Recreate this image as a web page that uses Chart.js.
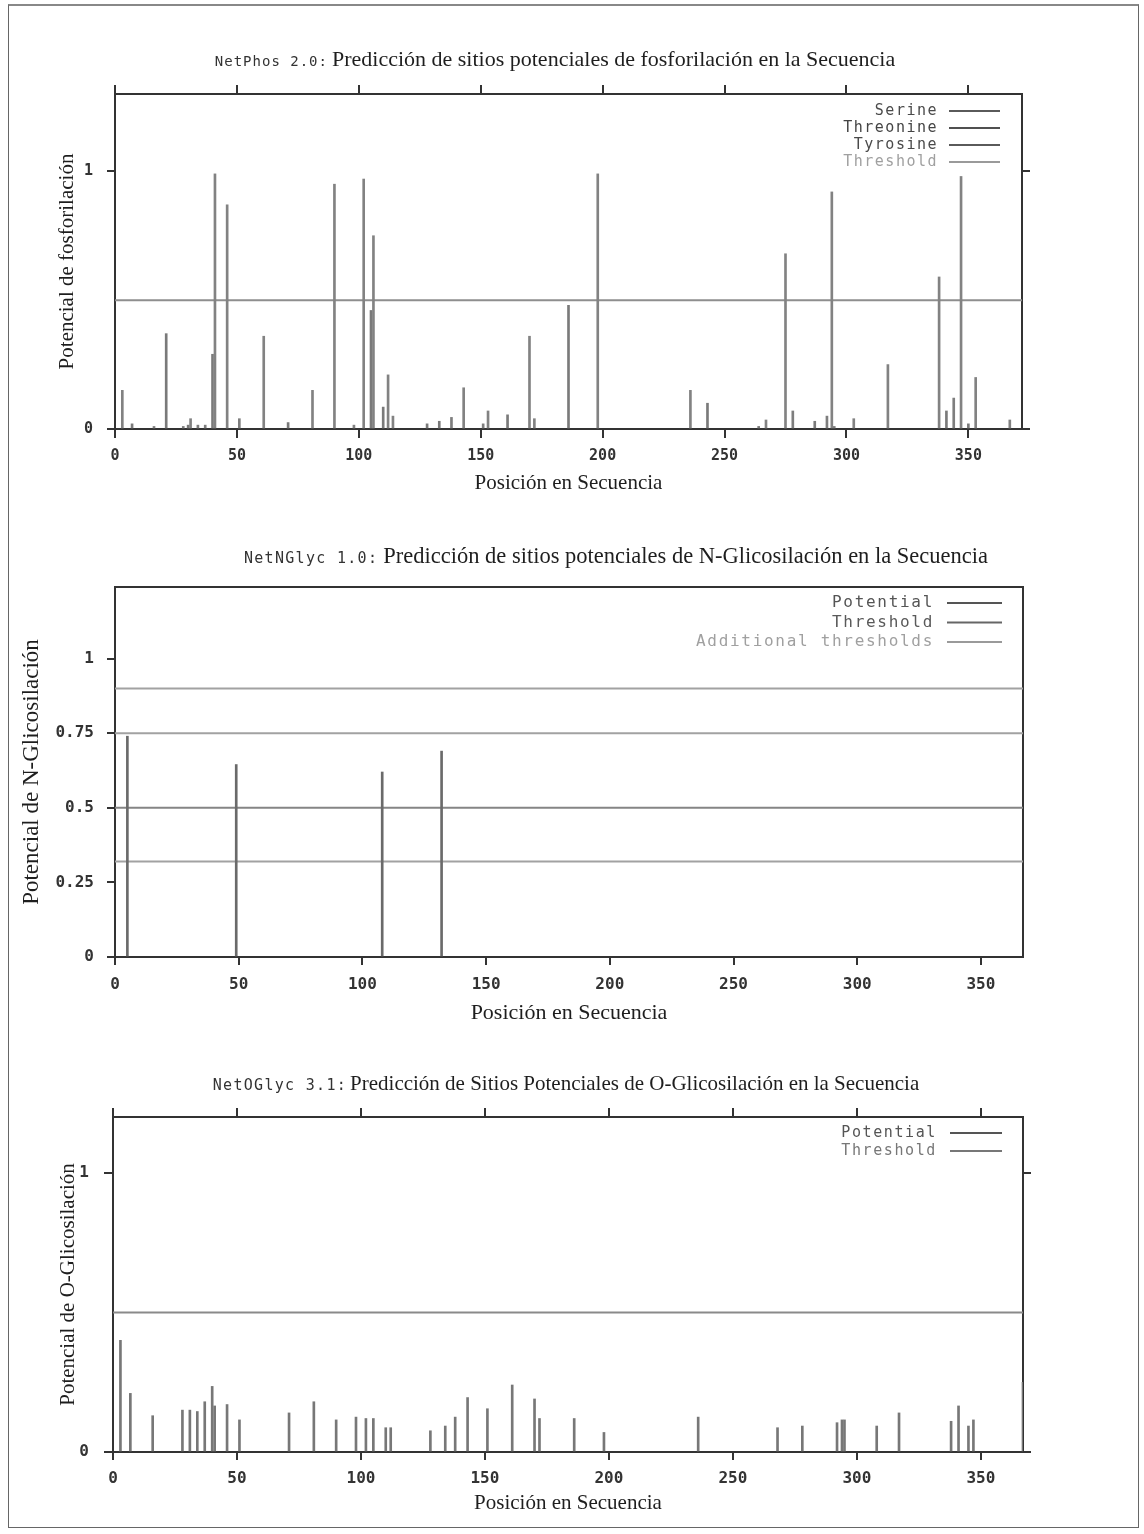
<!DOCTYPE html>
<html lang="es">
<head>
<meta charset="utf-8">
<title>NetPhos / NetNGlyc / NetOGlyc</title>
<script src="https://cdn.jsdelivr.net/npm/chart.js@4.4.1/dist/chart.umd.min.js"></script>
<style>
  html, body { margin: 0; padding: 0; background: #fff; }
  body { width: 1144px; height: 1534px; position: relative; overflow: hidden; }
  #frame { position: absolute; left: 8px; top: 4px; width: 1131px; height: 1524px; border: 1px solid #666; border-top: 2px solid #888; box-sizing: border-box; }
  canvas { position: absolute; left: 10px; }
</style>
</head>
<body>
<div id="frame"></div>
<canvas id="phosChart" width="1124" height="480" style="top:20px"></canvas>
<canvas id="nglycChart" width="1124" height="510" style="top:520px"></canvas>
<canvas id="oglycChart" width="1124" height="476" style="top:1050px"></canvas>
<script>
// ---------- values ----------
const seqTicks = [0, 50, 100, 150, 200, 250, 300, 350];

// NetPhos 2.0
const serinePos     = [3, 16, 31, 41, 46, 61, 81, 90, 98, 102, 106, 112, 114, 143, 153, 170, 172, 198, 236, 267, 275, 294, 303, 317, 338, 347, 353, 367];
const serineScore   = [0.15, 0.01, 0.04, 0.99, 0.87, 0.36, 0.15, 0.95, 0.015, 0.97, 0.75, 0.21, 0.05, 0.16, 0.07, 0.36, 0.04, 0.99, 0.15, 0.035, 0.68, 0.92, 0.04, 0.25, 0.59, 0.98, 0.2, 0.035];
const threoninePos  = [7, 21, 30, 40, 71, 105, 110, 128, 133, 161, 186, 243, 264, 287, 341, 350];
const threonineScore= [0.02, 0.37, 0.015, 0.29, 0.025, 0.46, 0.085, 0.02, 0.03, 0.055, 0.48, 0.1, 0.01, 0.03, 0.07, 0.02];
const tyrosinePos   = [28, 34, 37, 51, 138, 151, 278, 292, 295, 344];
const tyrosineScore = [0.01, 0.015, 0.015, 0.04, 0.045, 0.02, 0.07, 0.05, 0.01, 0.12];
const phosThreshold = 0.5;
const phosYTicks = [0, 1];

// NetNGlyc 1.0
const nglycPos   = [5, 49, 108, 132];
const nglycScore = [0.74, 0.645, 0.62, 0.69];
const nglycThreshold = 0.5;
const nglycExtraThresholds = [0.32, 0.75, 0.9];
const nglycYTicks = [0, 0.25, 0.5, 0.75, 1];

// NetOGlyc 3.1
const oglycPos   = [3, 7, 16, 28, 31, 34, 37, 40, 41, 46, 51, 71, 81, 90, 98, 102, 105, 110, 112, 128, 134, 138, 143, 151, 161, 170, 172, 186, 198, 236, 268, 278, 292, 294, 295, 308, 317, 338, 341, 345, 347, 367];
const oglycScore = [0.40, 0.21, 0.13, 0.15, 0.15, 0.145, 0.18, 0.235, 0.165, 0.17, 0.115, 0.14, 0.18, 0.115, 0.125, 0.12, 0.12, 0.087, 0.087, 0.076, 0.093, 0.125, 0.195, 0.155, 0.24, 0.19, 0.12, 0.12, 0.07, 0.125, 0.087, 0.093, 0.105, 0.115, 0.115, 0.093, 0.14, 0.11, 0.165, 0.093, 0.115, 0.25];
const oglycThreshold = 0.5;
const oglycYTicks = [0, 1];

// ---------- helpers ----------
const MONO = '"DejaVu Sans Mono", monospace';
const SERIF = '"Liberation Serif", serif';
const AXIS = '#333';

const toPoints = (pos, score) => pos.map((p, i) => ({x: p, y: score[i]}));
const flatLine = (y, xMax) => [{x: 0, y: y}, {x: xMax, y: y}];

function impulses(label, pos, score, color, legendLine, legendText) {
    return { type: 'bar', label, data: toPoints(pos, score), backgroundColor: color, borderWidth: 0,
             barThickness: 2, grouped: false, legendLine, legendText };
}
function hline(label, y, xMax, color, legendLine, legendText) {
    return { type: 'line', label, data: flatLine(y, xMax), borderColor: color, borderWidth: 2,
             pointRadius: 0, fill: false, legendLine, legendText };
}

// two-font title (program name in mono, description in serif)
const splitTitle = {
    id: 'splitTitle',
    afterDraw(chart, args, o) {
        const ctx = chart.ctx;
        ctx.save();
        ctx.textBaseline = 'alphabetic';
        ctx.textAlign = 'left';
        ctx.font = `${o.codeSize}px ${MONO}`;
        ctx.letterSpacing = o.codeSpacing + 'px';
        const w1 = ctx.measureText(o.code).width + o.gap;
        ctx.font = `${o.textSize}px ${SERIF}`;
        ctx.letterSpacing = '0px';
        const w2 = ctx.measureText(o.text).width;
        let x = o.cx - (w1 + w2) / 2;
        ctx.fillStyle = '#333';
        ctx.font = `${o.codeSize}px ${MONO}`;
        ctx.letterSpacing = o.codeSpacing + 'px';
        ctx.fillText(o.code, x, o.baseline);
        ctx.font = `${o.textSize}px ${SERIF}`;
        ctx.letterSpacing = '0px';
        ctx.fillStyle = '#1e1e1e';
        ctx.fillText(o.text, x + w1, o.baseline);
        ctx.restore();
    }
};

// gnuplot-style key: label right aligned, sample line to its right
const lineLegend = {
    id: 'lineLegend',
    afterDraw(chart, args, o) {
        const ctx = chart.ctx;
        ctx.save();
        ctx.font = `${o.size}px ${MONO}`;
        ctx.letterSpacing = o.spacing + 'px';
        ctx.textAlign = 'right';
        ctx.textBaseline = 'middle';
        let row = 0;
        chart.data.datasets.forEach(ds => {
            if (!ds.label) return;
            const y = o.top + row * o.step;
            ctx.fillStyle = ds.legendText;
            ctx.fillText(ds.label, o.textRight, y);
            ctx.strokeStyle = ds.legendLine;
            ctx.lineWidth = 2;
            ctx.beginPath();
            ctx.moveTo(o.x1, y);
            ctx.lineTo(o.x2, y);
            ctx.stroke();
            row++;
        });
        ctx.restore();
    }
};

function buildChart(id, c) {
    const canvas = document.getElementById(id);
    const offX = 10, offY = parseInt(canvas.style.top);
    const W = canvas.width, H = canvas.height;
    const a = c.area;
    const rightW = 20, topH = 14;
    const tickFont = {family: MONO, size: c.tickSize, weight: 'bold'};
    const lineOpts = (len, show) => ({ display: show, drawOnChartArea: false, drawTicks: true, tickLength: len,
        color: AXIS, tickColor: AXIS, lineWidth: 2, offset: false });
    const border = { display: true, color: AXIS, width: 2 };

    return new Chart(canvas, {
        type: 'bar',
        data: { datasets: c.datasets },
        options: {
            responsive: false,
            animation: false,
            events: [],
            layout: { padding: { left: 0, top: a.top - offY - topH, right: offX + W - a.right - rightW, bottom: 0 } },
            plugins: {
                legend: { display: false },
                tooltip: { enabled: false },
                title: { display: false },
                splitTitle: Object.assign({}, c.title, { cx: c.title.cx - offX, baseline: c.title.baseline - offY }),
                lineLegend: Object.assign({}, c.legend, { textRight: c.legend.textRight - offX,
                    x1: c.legend.x1 - offX, x2: c.legend.x2 - offX, top: c.legend.top - offY })
            },
            scales: {
                x: {
                    type: 'linear', position: 'bottom', min: 0, max: c.xMax, offset: false,
                    afterBuildTicks: s => { s.ticks = seqTicks.map(v => ({value: v})); },
                    afterFit: s => { s.height = offY + H - a.bottom; },
                    grid: lineOpts(c.xTickLen, true),
                    border,
                    ticks: { font: tickFont, color: '#333', padding: c.xTickPad, maxRotation: 0, autoSkip: false,
                             callback: v => String(v) },
                    title: { display: true, text: c.xTitle, font: {family: SERIF, size: c.xTitleSize}, color: '#1e1e1e',
                             padding: { top: 0, bottom: c.xTitlePad } }
                },
                y: {
                    type: 'linear', position: 'left', min: 0, max: c.yMax,
                    afterBuildTicks: s => { s.ticks = c.yTicks.map(v => ({value: v})); },
                    afterFit: s => { s.width = a.left - offX; },
                    grid: lineOpts(c.yTickLen, true),
                    border,
                    ticks: { font: tickFont, color: '#333', padding: c.yTickPad, callback: v => String(v) },
                    title: { display: true, text: c.yTitle, font: {family: SERIF, size: c.yTitleSize}, color: '#1e1e1e',
                             padding: { top: c.yTitlePad, bottom: 0 } }
                },
                x2: {
                    type: 'linear', position: 'top', min: 0, max: c.xMax, offset: false,
                    afterBuildTicks: s => { s.ticks = seqTicks.map(v => ({value: v})); },
                    afterFit: s => { s.height = topH; },
                    grid: lineOpts(9, c.outerTicks),
                    border,
                    ticks: { display: false }
                },
                y2: {
                    type: 'linear', position: 'right', min: 0, max: c.yMax,
                    afterBuildTicks: s => { s.ticks = c.yTicks.map(v => ({value: v})); },
                    afterFit: s => { s.width = rightW; },
                    grid: lineOpts(8, c.outerTicks),
                    border,
                    ticks: { display: false }
                }
            }
        },
        plugins: [splitTitle, lineLegend]
    });
}

// ---------- NetPhos ----------
const phosXMax = 372;
buildChart('phosChart', {
    area: { left: 115, right: 1022, top: 94, bottom: 429 },
    xMax: phosXMax, yMax: 1.3, yTicks: phosYTicks, outerTicks: true,
    tickSize: 15, xTickLen: 9, xTickPad: 9, yTickLen: 8, yTickPad: 14,
    xTitleSize: 21, yTitleSize: 21, xTitle: 'Posición en Secuencia', yTitle: 'Potencial de fosforilación',
    xTitlePad: 4, yTitlePad: 45,
    title: { code: 'NetPhos 2.0:', text: 'Predicción de sitios potenciales de fosforilación en la Secuencia',
             cx: 555, baseline: 66, codeSize: 14, codeSpacing: 1, gap: 4, textSize: 22 },
    legend: { size: 15, spacing: 1.5, textRight: 938, x1: 949, x2: 1000, top: 111, step: 17 },
    datasets: [
        impulses('Serine', serinePos, serineScore, '#828282', '#5a5a5a', '#4a4a4a'),
        impulses('Threonine', threoninePos, threonineScore, '#7a7a7a', '#505050', '#444'),
        impulses('Tyrosine', tyrosinePos, tyrosineScore, '#7e7e7e', '#5a5a5a', '#4a4a4a'),
        hline('Threshold', phosThreshold, phosXMax, '#8e8e8e', '#9a9a9a', '#a0a0a0')
    ]
});

// ---------- NetNGlyc ----------
const nglycXMax = 367;
buildChart('nglycChart', {
    area: { left: 115, right: 1023, top: 587, bottom: 957 },
    xMax: nglycXMax, yMax: 1.24, yTicks: nglycYTicks, outerTicks: false,
    tickSize: 16, xTickLen: 8, xTickPad: 10, yTickLen: 8, yTickPad: 13,
    xTitleSize: 22, yTitleSize: 23, xTitle: 'Posición en Secuencia', yTitle: 'Potencial de N-Glicosilación',
    xTitlePad: 4, yTitlePad: 8,
    title: { code: 'NetNGlyc 1.0:', text: 'Predicción de sitios potenciales de N-Glicosilación en la Secuencia',
             cx: 616, baseline: 563, codeSize: 15, codeSpacing: 1.3, gap: 5, textSize: 22.5 },
    legend: { size: 16, spacing: 1.7, textRight: 934, x1: 947, x2: 1002, top: 603, step: 19.5 },
    datasets: [
        impulses('Potential', nglycPos, nglycScore, '#6a6a6a', '#555', '#555'),
        hline('Threshold', nglycThreshold, nglycXMax, '#858585', '#666', '#5a5a5a'),
        hline('Additional thresholds', nglycExtraThresholds[0], nglycXMax, '#a2a2a2', '#9a9a9a', '#a0a0a0'),
        hline('', nglycExtraThresholds[1], nglycXMax, '#a2a2a2'),
        hline('', nglycExtraThresholds[2], nglycXMax, '#a2a2a2')
    ]
});

// ---------- NetOGlyc ----------
const oglycXMax = 367;
buildChart('oglycChart', {
    area: { left: 113, right: 1023, top: 1117, bottom: 1452 },
    xMax: oglycXMax, yMax: 1.2, yTicks: oglycYTicks, outerTicks: true,
    tickSize: 16, xTickLen: 8, xTickPad: 9, yTickLen: 9, yTickPad: 15,
    xTitleSize: 21, yTitleSize: 21, xTitle: 'Posición en Secuencia', yTitle: 'Potencial de O-Glicosilación',
    xTitlePad: 10, yTitlePad: 46,
    title: { code: 'NetOGlyc 3.1:', text: 'Predicción de Sitios Potenciales de O-Glicosilación en la Secuencia',
             cx: 566, baseline: 1090, codeSize: 15, codeSpacing: 1.3, gap: 3, textSize: 21 },
    legend: { size: 15, spacing: 1.6, textRight: 937, x1: 950, x2: 1002, top: 1133, step: 18 },
    datasets: [
        impulses('Potential', oglycPos, oglycScore, '#777', '#555', '#555'),
        hline('Threshold', oglycThreshold, oglycXMax, '#8a8a8a', '#777', '#777')
    ]
});
</script>
</body>
</html>
